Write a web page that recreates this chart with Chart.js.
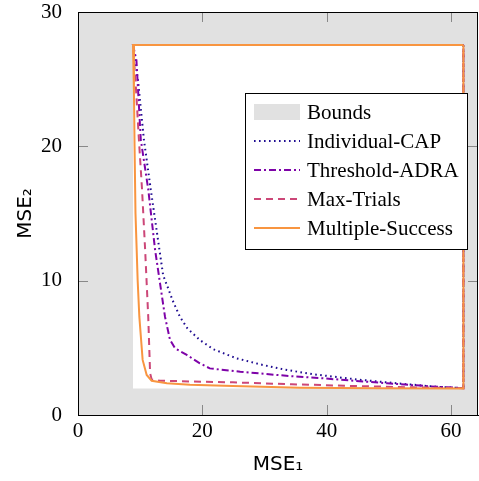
<!DOCTYPE html>
<html>
<head>
<meta charset="utf-8">
<script src="https://cdn.jsdelivr.net/npm/chart.js@4"></script>
<style>
  html, body { margin: 0; padding: 0; background: #fff; }
  #wrap { width: 479px; height: 481px; }
</style>
</head>
<body>
<div id="wrap"><canvas id="myChart" width="479" height="481"></canvas></div>
<script>
// tick labels
const xTickValues = [0, 20, 40, 60];
const yTickValues = [0, 10, 20, 30];

// bounds rectangle (white inside, grey outside)
const boundsX = [8.85, 62.0, 62.0, 8.85, 8.85];
const boundsY = [1.97, 1.97, 27.55, 27.55, 1.97];

// fronts, each closed along the top and right edges of the bounds
const capX = [62.0, 8.85, 9.7, 10.6, 11.7, 13.1, 13.7, 14.5, 15.2, 16.4, 17.6, 19.6, 21.8, 25.5, 29.3, 33.2, 37.9, 44.8, 51.3, 57.7, 62.0, 62.0];
const capY = [27.55, 27.55, 24.7, 20.5, 16.8, 12.3, 10.4, 9.43, 8.56, 7.3, 6.45, 5.58, 4.89, 4.22, 3.77, 3.38, 3.03, 2.65, 2.36, 2.1, 2.0, 27.55];

const adraX = [62.0, 8.85, 9.4, 10.1, 11.3, 12.4, 13.2, 14.0, 14.8, 15.6, 17.5, 19.6, 21.2, 26.1, 33.5, 39.4, 49.7, 57.7, 62.0, 62.0];
const adraY = [27.55, 27.55, 26.4, 20.5, 16.8, 12.3, 9.8, 7.3, 5.6, 4.97, 4.47, 3.85, 3.47, 3.22, 2.92, 2.73, 2.36, 2.1, 2.0, 27.55];

const maxTrialsX = [62.0, 8.85, 9.3, 9.8, 10.3, 10.8, 11.3, 11.6, 11.85, 13.2, 24.9, 34.4, 44.3, 53.9, 62.0, 62.0];
const maxTrialsY = [27.55, 27.55, 24.5, 20.5, 16.8, 12.3, 7.3, 3.1, 2.65, 2.55, 2.43, 2.29, 2.16, 2.06, 2.0, 27.55];

const multiX = [62.0, 8.85, 9.0, 9.1, 9.25, 9.44, 9.6, 9.87, 10.4, 11.05, 11.85, 14.3, 18, 24.9, 35.7, 48, 62.0, 62.0];
const multiY = [27.55, 27.55, 24, 20, 15, 12.3, 10, 7.3, 4.1, 2.98, 2.55, 2.36, 2.25, 2.16, 2.03, 1.99, 1.97, 27.55];

const toPts = (xs, ys) => xs.map((x, i) => ({ x: x, y: ys[i] }));

const boundsGrey = '#e1e1e1';

const frame = {
    id: 'frame',
    beforeDraw(chart) {
        const { ctx, chartArea: a } = chart;
        ctx.save();
        ctx.fillStyle = boundsGrey;
        ctx.fillRect(a.left, a.top, a.right - a.left, a.bottom - a.top);
        ctx.restore();
    },
    afterDatasetsDraw(chart) {
        const { ctx, chartArea: a, scales } = chart;
        ctx.save();
        // inward ticks on all four sides
        ctx.strokeStyle = '#888';
        ctx.lineWidth = 1;
        ctx.beginPath();
        scales.x.ticks.forEach(t => {
            const px = Math.round(scales.x.getPixelForValue(t.value)) + 0.5;
            if (px <= a.left + 1) return;
            ctx.moveTo(px, a.bottom); ctx.lineTo(px, a.bottom - 10);
            ctx.moveTo(px, a.top); ctx.lineTo(px, a.top + 10);
        });
        scales.y.ticks.forEach(t => {
            const py = Math.round(scales.y.getPixelForValue(t.value)) + 0.5;
            if (py >= a.bottom - 1 || py <= a.top + 1) return;
            ctx.moveTo(a.left, py); ctx.lineTo(a.left + 10, py);
            ctx.moveTo(a.right, py); ctx.lineTo(a.right - 10, py);
        });
        ctx.stroke();
        ctx.strokeStyle = '#000';
        ctx.strokeRect(a.left + 0.5, a.top + 0.5, a.right - a.left - 1, a.bottom - a.top);
        ctx.restore();
    },
    afterDraw(chart) {
        // legend box inside the plot
        const { ctx } = chart;
        const bx = 245.5, by = 93.5, bw = 222, bh = 156;
        ctx.save();
        ctx.fillStyle = '#fff';
        ctx.fillRect(bx, by, bw, bh);
        ctx.strokeStyle = '#000';
        ctx.lineWidth = 1;
        ctx.strokeRect(bx, by, bw, bh);
        ctx.font = '21px "Liberation Serif"';
        ctx.textBaseline = 'middle';
        chart.data.datasets.forEach((ds, i) => {
            const cy = 112 + i * 29;
            if (i === 0) {
                ctx.fillStyle = boundsGrey;
                ctx.fillRect(254, cy - 8, 46, 16);
            } else {
                ctx.strokeStyle = ds.borderColor;
                ctx.lineWidth = ds.borderWidth;
                ctx.setLineDash(ds.borderDash || []);
                ctx.beginPath();
                ctx.moveTo(254, cy); ctx.lineTo(300, cy);
                ctx.stroke();
                ctx.setLineDash([]);
            }
            ctx.fillStyle = '#000';
            ctx.fillText(ds.label, 307, cy + 1);
        });
        ctx.restore();
    }
};

const lineDs = (label, pts, color, dash, order) => ({
    label: label,
    data: pts,
    showLine: true,
    borderColor: color,
    borderWidth: 2,
    borderDash: dash,
    pointRadius: 0,
    tension: 0,
    fill: false,
    order: order
});

new Chart(document.getElementById('myChart').getContext('2d'), {
    type: 'scatter',
    data: {
        datasets: [
            {
                label: 'Bounds',
                data: toPts(boundsX, boundsY),
                showLine: true,
                borderWidth: 0,
                borderColor: 'rgba(0,0,0,0)',
                backgroundColor: '#fff',
                pointRadius: 0,
                fill: 'shape',
                order: 10
            },
            lineDs('Individual-CAP', toPts(capX, capY), '#1f0c91', [1.6, 3.4], 4),
            lineDs('Threshold-ADRA', toPts(adraX, adraY), '#7e03a8', [7, 3, 2, 3], 3),
            lineDs('Max-Trials', toPts(maxTrialsX, maxTrialsY), '#cc4778', [7, 5], 2),
            lineDs('Multiple-Success', toPts(multiX, multiY), '#f89540', [], 1)
        ]
    },
    options: {
        responsive: false,
        animation: false,
        layout: { padding: { left: 0, top: 12, right: 1, bottom: 0 } },
        plugins: {
            legend: { display: false },
            tooltip: { enabled: false }
        },
        scales: {
            x: {
                type: 'linear',
                min: 0,
                max: 64.35,
                afterBuildTicks: s => { s.ticks = xTickValues.map(v => ({ value: v })); },
                afterFit: s => { s.height = 66; s.paddingLeft = 0; s.paddingRight = 0; },
                grid: { display: false, drawTicks: false },
                border: { display: true, color: '#000', width: 1 },
                ticks: {
                    padding: 4,
                    color: '#000',
                    font: { family: 'Liberation Serif', size: 21 }
                },
                title: {
                    display: true,
                    text: 'MSE\u2081',
                    color: '#000',
                    font: { family: 'DejaVu Sans', size: 20 },
                    padding: { top: 0, bottom: 4 }
                }
            },
            y: {
                type: 'linear',
                min: 0,
                max: 30,
                afterBuildTicks: s => { s.ticks = yTickValues.map(v => ({ value: v })); },
                afterFit: s => { s.width = 78; s.paddingTop = 0; s.paddingBottom = 0; },
                grid: { display: false, drawTicks: false },
                border: { display: true, color: '#000', width: 1 },
                ticks: {
                    padding: 16,
                    color: '#000',
                    font: { family: 'Liberation Serif', size: 21 }
                },
                title: {
                    display: true,
                    text: 'MSE\u2082',
                    color: '#000',
                    font: { family: 'DejaVu Sans', size: 20 },
                    padding: { top: 14, bottom: 0 }
                }
            }
        }
    },
    plugins: [frame]
});
</script>
</body>
</html>
